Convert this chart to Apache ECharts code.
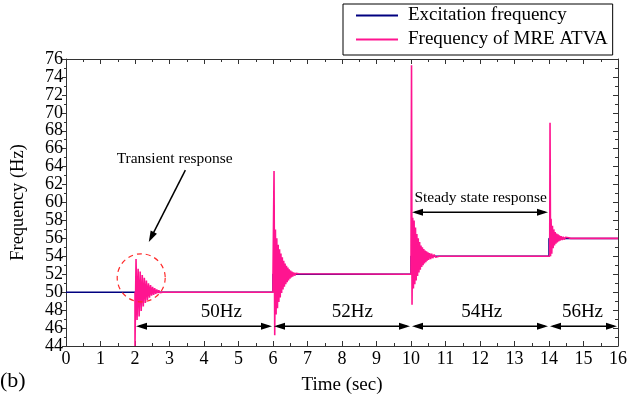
<!DOCTYPE html>
<html><head><meta charset="utf-8">
<script src="https://cdn.jsdelivr.net/npm/echarts@6/dist/echarts.min.js"></script>
<style>html,body{margin:0;padding:0;background:#fff}#c{width:630px;height:412px}</style>
</head><body><div id="c"></div>
<script>
// ---- data ----
const seriesNames = ['Excitation frequency', 'Frequency of MRE ATVA'];
const xTicks = {min: 0, max: 16, interval: 1};
const yTicks = {min: 44, max: 76, interval: 2};
const excitation = [[0,50],[6,50],[6,52],[10,52],[10,54],[14,54],[14,56],[16,56]];
const atvaFrom2 = [[2.00,50],[2.00,44.0],[2.03,53.7],[2.06,46.9],[2.09,52.6],[2.12,47.3],[2.15,52.3],[2.18,47.9],[2.21,51.9],[2.24,48.4],[2.27,51.6],[2.30,48.8],[2.33,51.3],[2.36,49.1],[2.39,51.0],[2.42,49.4],[2.45,50.8],[2.48,49.6],[2.51,50.6],[2.54,49.7],[2.57,50.45],[2.60,49.8],[2.63,50.3],[2.66,49.9],[2.69,50.2],[2.72,49.95],[2.76,50.1],[2.80,50.0],[6.00,50.0]];
const atvaFrom6 = [[6.00,52.0],[6.03,63.5],[6.05,45.2],[6.07,57.0],[6.09,47.5],[6.11,56.0],[6.13,48.2],[6.15,55.3],[6.17,48.9],[6.19,54.8],[6.21,49.4],[6.23,54.3],[6.25,49.9],[6.27,53.9],[6.29,50.3],[6.31,53.5],[6.33,50.6],[6.35,53.2],[6.37,50.9],[6.39,52.95],[6.41,51.1],[6.43,52.75],[6.45,51.3],[6.47,52.55],[6.49,51.5],[6.51,52.4],[6.53,51.65],[6.55,52.3],[6.57,51.75],[6.60,52.2],[6.63,51.85],[6.66,52.1],[6.70,51.95],[6.75,52.05],[6.80,52.0],[10.00,52.0]];
const atvaFrom10 = [[10.00,54.0],[10.015,75.3],[10.03,48.6],[10.05,58.3],[10.07,50.4],[10.09,58.0],[10.11,50.9],[10.13,57.2],[10.15,51.3],[10.17,56.5],[10.19,51.8],[10.21,56.0],[10.23,52.2],[10.25,55.6],[10.27,52.5],[10.29,55.2],[10.31,52.8],[10.33,55.0],[10.35,53.0],[10.37,54.8],[10.39,53.2],[10.41,54.65],[10.43,53.35],[10.45,54.55],[10.47,53.5],[10.49,54.45],[10.51,53.6],[10.54,54.35],[10.57,53.7],[10.60,54.3],[10.63,53.8],[10.67,54.2],[10.71,53.9],[10.76,54.1],[10.82,54.0],[14.02,54.0]];
const atvaFrom14 = [[14.03,68.9],[14.045,54.0],[14.06,58.2],[14.08,54.3],[14.10,57.4],[14.12,54.9],[14.14,57.0],[14.16,55.2],[14.18,56.7],[14.20,55.4],[14.22,56.55],[14.24,55.55],[14.26,56.45],[14.28,55.65],[14.30,56.35],[14.32,55.75],[14.35,56.25],[14.38,55.82],[14.41,56.18],[14.44,55.88],[14.48,56.12],[14.52,55.93],[14.57,56.07],[14.63,56.0],[16.0,56.0]];
const bandEdges = [2, 6, 10, 14, 16];
const bandLabels = ['50Hz', '52Hz', '54Hz', '56Hz'];
const bandLabelX = [4.5, 8.3, 12.05, 14.97];
const bandArrowY = 46.2;
const bandLabelY = 47.8;
const steadyText = 'Steady state response';
const steadyRange = [10, 14];
const steadyArrowY = 58.9;
const steadyTextPos = [12.02, 60.5];
const transientText = 'Transient response';
const transientTextPos = [3.15, 64.9];
const transientArrowFrom = [3.46, 63.6];
const transientArrowTo = [2.4, 55.6];
const transientCircle = [2.18, 51.6];
const panelLabel = '(b)';
const xName = 'Time (sec)';
const yName = 'Frequency (Hz)';

const atva = [].concat(atvaFrom2, atvaFrom6, atvaFrom10, atvaFrom14);
const FONT = 'Liberation Serif';
const BLUE = '#000080';
const PINK = '#ff1490';

const chart = echarts.init(document.getElementById('c'), null, {renderer: 'canvas'});

function axisCommon(extra) {
  return Object.assign({
    type: 'value',
    splitLine: {show: false},
    axisLine: {show: true, onZero: false, lineStyle: {color: '#333', width: 1}},
    axisTick: {show: true, inside: true, length: 5, lineStyle: {color: '#333'}},
    minorTick: {show: true, splitNumber: 2, length: 3, lineStyle: {color: '#333'}},
    minorSplitLine: {show: false}
  }, extra);
}

chart.setOption({
  animation: false,
  backgroundColor: '#fff',
  textStyle: {fontFamily: FONT},
  grid: {left: 66, right: 9, top: 59, bottom: 66, containLabel: false},
  legend: {
    orient: 'vertical', left: 343, top: 4,
    data: seriesNames,
    icon: 'rect', itemWidth: 42, itemHeight: 2, itemGap: 3,
    padding: [1, 5, 5, 13],
    borderColor: '#000', borderWidth: 1, backgroundColor: '#fff',
    textStyle: {fontFamily: FONT, fontSize: 19, color: '#000', lineHeight: 21, padding: [0, 0, 0, 5]}
  },
  xAxis: [
    axisCommon({
      position: 'bottom', min: xTicks.min, max: xTicks.max, interval: xTicks.interval,
      name: xName, nameLocation: 'middle', nameGap: 30,
      nameTextStyle: {fontFamily: FONT, fontSize: 19, color: '#000'},
      axisLabel: {fontFamily: FONT, fontSize: 18, color: '#000', margin: 4}
    }),
    axisCommon({
      position: 'top', min: xTicks.min, max: xTicks.max, interval: xTicks.interval,
      axisLabel: {show: false}
    })
  ],
  yAxis: [
    axisCommon({
      position: 'left', min: yTicks.min, max: yTicks.max, interval: yTicks.interval,
      name: yName, nameLocation: 'middle', nameGap: 38,
      nameTextStyle: {fontFamily: FONT, fontSize: 18.5, color: '#000'},
      axisTick: {show: true, inside: false, length: 4, lineStyle: {color: '#333'}},
      minorTick: {show: true, splitNumber: 2, length: 2, lineStyle: {color: '#333'}},
      axisLabel: {fontFamily: FONT, fontSize: 18, color: '#000', margin: 3}
    }),
    axisCommon({
      position: 'right', min: yTicks.min, max: yTicks.max, interval: yTicks.interval,
      axisLabel: {show: false}
    })
  ],
  series: [
    {name: seriesNames[0], type: 'line', data: excitation, symbol: 'none',
     lineStyle: {color: BLUE, width: 1.5}, itemStyle: {color: BLUE}, z: 2},
    {name: seriesNames[1], type: 'line', data: atva, symbol: 'none',
     lineStyle: {color: PINK, width: 1.6}, itemStyle: {color: PINK}, z: 3}
  ]
});

// ---- annotations anchored to data coordinates ----
function px(p) { return chart.convertToPixel({gridIndex: 0}, p); }
const g = [];
function head(tip, ang, len, wid) {
  const c = Math.cos(ang), s = Math.sin(ang);
  const bx = tip[0] - c * len, by = tip[1] - s * len;
  return {type: 'polygon', shape: {points: [tip, [bx - s * wid / 2, by + c * wid / 2], [bx + s * wid / 2, by - c * wid / 2]]},
          style: {fill: '#000'}, z: 100};
}
function dblArrow(x0, x1, y) {
  const a = px([x0, y]), b = px([x1, y]);
  g.push({type: 'line', shape: {x1: a[0] + 4, y1: a[1], x2: b[0] - 4, y2: b[1]}, style: {stroke: '#000', lineWidth: 1.5}, z: 100});
  g.push(head([a[0] + 1, a[1]], Math.PI, 11, 7));
  g.push(head([b[0] - 1, b[1]], 0, 11, 7));
}
function label(text, p, size) {
  const q = px(p);
  g.push({type: 'text', x: q[0], y: q[1], style: {text: text, fontFamily: FONT, fontSize: size, fill: '#000', align: 'center', verticalAlign: 'middle'}, z: 100});
}
for (let i = 0; i < bandLabels.length; i++) {
  dblArrow(bandEdges[i], bandEdges[i + 1], bandArrowY);
  label(bandLabels[i], [bandLabelX[i], bandLabelY], 19);
}
dblArrow(steadyRange[0], steadyRange[1], steadyArrowY);
label(steadyText, steadyTextPos, 15.5);
label(transientText, transientTextPos, 15.5);
(function () {
  const a = px(transientArrowFrom), b = px(transientArrowTo);
  const ang = Math.atan2(b[1] - a[1], b[0] - a[0]);
  g.push({type: 'line', shape: {x1: a[0], y1: a[1], x2: b[0] - Math.cos(ang) * 6, y2: b[1] - Math.sin(ang) * 6}, style: {stroke: '#000', lineWidth: 1.5}, z: 100});
  g.push(head(b, ang, 11, 7));
  const c = px(transientCircle);
  g.push({type: 'circle', shape: {cx: c[0], cy: c[1], r: 24}, style: {fill: 'none', stroke: '#ff2a2a', lineWidth: 1.2, lineDash: [5, 4]}, z: 100});
})();
g.push({type: 'text', x: 0, y: 381, style: {text: panelLabel, fontFamily: FONT, fontSize: 22, fill: '#000', verticalAlign: 'middle'}, z: 100});
chart.setOption({graphic: g});
</script></body></html>
